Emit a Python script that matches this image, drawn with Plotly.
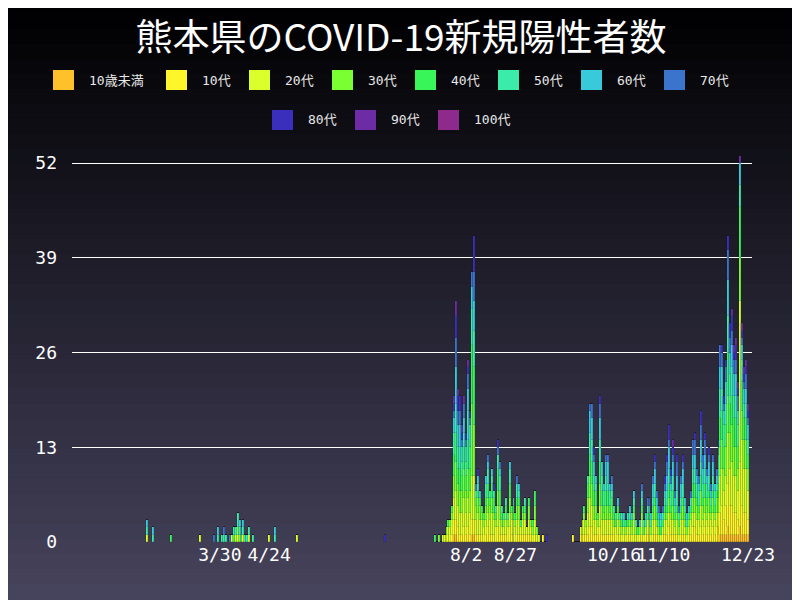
import datetime as dt
import plotly.graph_objects as go

age_labels = ["10歳未満", "10代", "20代", "30代", "40代", "50代", "60代", "70代", "80代", "90代", "100代"]
age_colors = ["#FFC12B", "#FFF52B", "#DAFF2B", "#7AFF33", "#38F55A", "#3BEBAA", "#38CADB", "#3A74CC", "#3A2FBC", "#6E2BA6", "#8E2A8C"]
age_codes = "0123456789A"

# early period: sparse case days (each character = one case, digit = age group)
early_dates = ["2020-02-22", "2020-02-25", "2020-03-05", "2020-03-20", "2020-03-27", "2020-03-29", "2020-03-31",
               "2020-04-01", "2020-04-02", "2020-04-04", "2020-04-05", "2020-04-06", "2020-04-07", "2020-04-08",
               "2020-04-09", "2020-04-10", "2020-04-11", "2020-04-12", "2020-04-13", "2020-04-14", "2020-04-16",
               "2020-04-24", "2020-04-27", "2020-05-08", "2020-06-22"]
early_cases = ["256", "56", "4", "2", "7", "56", "5", "57", "5", "7", "2", "45", "25", "2355", "356", "57", "256",
               "5", "5", "25", "5", "2", "56", "2", "8"]

summer_start = "2020-07-17"
summer_cases = ["4", "", "3", "", "2", "2", "23", "124", "223", "12234",
                "01122233344455566789", "011222233334444555566666777788899", "112223334455566677889",
                "12223334445556667788", "1222333445566789", "11222233334445566779", "122233344556678",
                "1122223333444455556667789", "122233344455566678",
                "0112222223333333333444444445555566677",
                "011222222333333344444444555556666777788888",
                "12233457", "1222334568", "1223346", "12234", "2234", "122334556", "112233445567", "1223345",
                "1222334456", "12234458", "22345", "11222334445578", "12233445567", "12345", "1235", "122345",
                "2235", "11223344556", "12234", "122345", "2234", "122334557", "12233456", "124", "12234",
                "122345", "12", "122334", "123", "234", "1223344", "23", "2", "", "1", "", "8"]

winter_start = "2020-09-25"
winter_cases = ["1", "", "", "", "12", "122", "12234", "123", "122233445",
                "1122223334445556667", "1122233344455566677", "1223344556678", "122334456", "1234",
                "11222333444555666778", "12233445566", "12234556", "122334455667", "122334456667", "12234556",
                "122334567", "12345", "2245", "122346", "1235", "2345", "1256", "234", "1245", "12356", "2346",
                "1223456", "235", "24", "136", "12234567", "245",
                "1256", "122457", "123467", "2356", "122345667", "122334556678", "1234567", "23567", "2456",
                "12457", "122345678", "122345566778", "1122334455666788", "1223455678", "12233445566789",
                "1234567", "122345566778", "23457", "122345667", "122334556678", "123456", "2356", "12346",
                "1223457", "11223344556677", "112233445566778", "1223345567", "122345567",
                "112223344556667788", "122334556677",
                "112233445566778", "1223345567", "1122334556678", "12234567", "112233455667", "12234556",
                "1122334567", "11223344556678", "011122222333344445555666777",
                "011112222233334444555666778", "01122223334445556678", "0111122223333444555666778",
                "001111112222222333334444445555566666777788",
                "011112222233333444455556667788", "01111222222333334444555566677889",
                "011122222333344445556667789", "0111222223333444455566677889", "0112222333444555667789",
                "00111111111" + "2222222222222222222222" + "333333" + "4444444" + "555" + "666" + "9",
                "011112222222223333444455566789", "011122222233334445566789",
                "0111222222333344455667789", "0112222333445566789"]

day_list = []
for d, c in zip(early_dates, early_cases):
    day_list.append((dt.date.fromisoformat(d), c))
for start, cases in ((summer_start, summer_cases), (winter_start, winter_cases)):
    s = dt.date.fromisoformat(start)
    for i, c in enumerate(cases):
        day_list.append((s + dt.timedelta(days=i), c))

dates = [d.isoformat() for d, _ in day_list]

fig = go.Figure()
for k, (lab, col) in enumerate(zip(age_labels, age_colors)):
    vals = [c.count(age_codes[k]) for _, c in day_list]
    fig.add_trace(go.Bar(x=dates, y=vals, name=lab, marker_color=col,
                         marker_line=dict(color="rgba(20,20,30,0.5)", width=0.3),
                         width=86400000 * 1.0, showlegend=False))

# page adds an 8px offset; work in reference pixel coords minus 8
OFF = 8
W, H = 792, 592
L, R, T, B = 64, 48, 147, 58
pw, ph = W - L - R, H - T - B

def px2x(px):
    return (px - OFF - L) / pw

def py2y(py):
    return (H - B - (py - OFF)) / ph

shapes = []
n = 40
for i in range(n):
    t = i / (n - 1)
    r = int(0 + 70 * t)
    g = int(0 + 67 * t)
    b = int(2 + 90 * t)
    y_top = i * 600 / n - 1
    y_bot = (i + 1) * 600 / n + 1
    shapes.append(dict(type="rect", xref="paper", yref="paper", x0=px2x(-20), x1=px2x(820),
                       y0=py2y(y_bot), y1=py2y(y_top),
                       fillcolor=f"rgb({r},{g},{b})", line_width=0, layer="below"))

annotations = []
legend_pos = [(53, 80), (166, 80), (249, 80), (332, 80), (415, 80), (498, 80), (581, 80), (664, 80),
              (272, 120), (355, 120), (438, 120)]
for (px, py), lab, col in zip(legend_pos, age_labels, age_colors):
    shapes.append(dict(type="rect", xref="paper", yref="paper", x0=px2x(px), x1=px2x(px + 21),
                       y0=py2y(py + 10), y1=py2y(py - 10), fillcolor=col, line_width=0))
    annotations.append(dict(xref="paper", yref="paper", x=px2x(px + 34), y=py2y(py),
                            text=lab, showarrow=False, xanchor="left", yanchor="middle",
                            font=dict(size=13, color="#e8e8e8", family="DejaVu Sans Mono, Noto Sans CJK JP")))

tick_dates = ["2020-03-30", "2020-04-24", "2020-08-02", "2020-08-27", "2020-10-16", "2020-11-10", "2020-12-23"]
tick_text = ["3/30", "4/24", "8/2", "8/27", "10/16", "11/10", "12/23"]

fig.update_layout(
    width=W, height=H, barmode="stack", bargap=0,
    margin=dict(l=L, r=R, t=T, b=B, autoexpand=False),
    paper_bgcolor="#000000", plot_bgcolor="rgba(0,0,0,0)",
    shapes=shapes, annotations=annotations,
    title=dict(text="熊本県のCOVID-19新規陽性者数", x=(401 - OFF) / W, xanchor="center",
               y=1 - (38 - OFF) / H, yanchor="middle",
               font=dict(size=37, color="white", family="Noto Sans CJK JP")),
    font=dict(family="DejaVu Sans Mono", color="white"),
    xaxis=dict(type="date", range=["2020-01-15", "2020-12-25"], tickvals=tick_dates, ticktext=tick_text,
               showgrid=False, zeroline=False, showline=False, ticks="", tickangle=0, automargin=False,
               tickfont=dict(size=18, color="white")),
    yaxis=dict(range=[0, 53.1], tickvals=[0, 13, 26, 39, 52], showgrid=True, gridcolor="white", gridwidth=1.2,
               zeroline=False, ticks="", automargin=False, tickfont=dict(size=18, color="white"),
               ticklabelstandoff=14),
)
fig.write_html("out.html")
